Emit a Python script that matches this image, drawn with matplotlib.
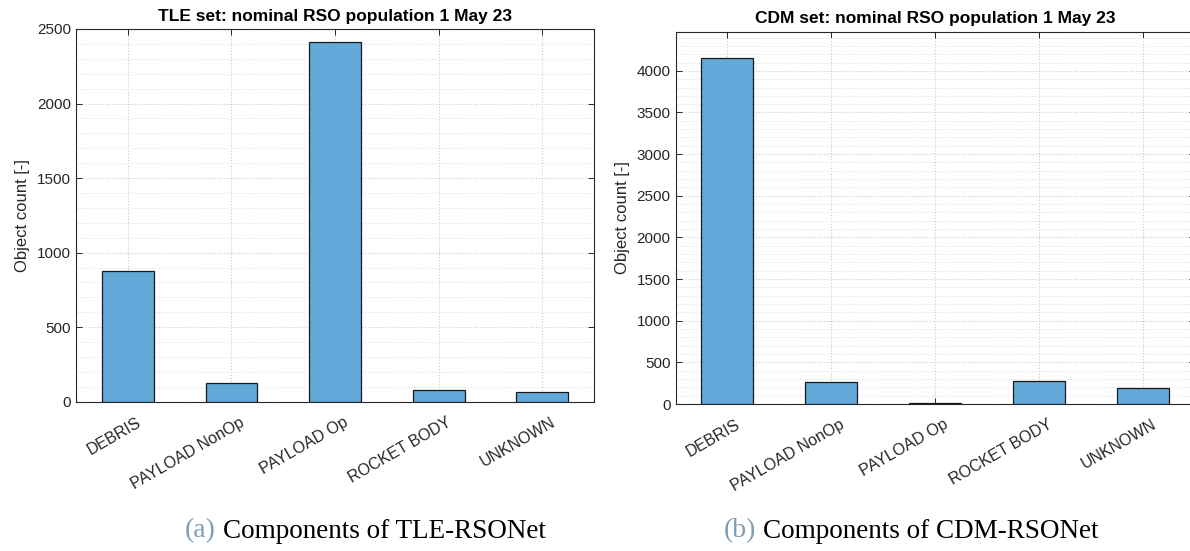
import numpy as np
import matplotlib.pyplot as plt
import matplotlib.transforms as mtransforms
from matplotlib.ticker import MultipleLocator

# data
categories = ['DEBRIS', 'PAYLOAD NonOp', 'PAYLOAD Op', 'ROCKET BODY', 'UNKNOWN']
tle_counts = [880, 127, 2412, 76, 64]
cdm_counts = [4160, 264, 12, 272, 197]
titles = ['TLE set: nominal RSO population 1 May 23',
          'CDM set: nominal RSO population 1 May 23']
captions = [('(a)', 'Components of TLE-RSONet'),
            ('(b)', 'Components of CDM-RSONet')]

plt.rcParams['font.family'] = ['Liberation Sans', 'DejaVu Sans']

W, H = 1190, 551
fig = plt.figure(figsize=(W / 100, H / 100), dpi=100)

# axes boxes in pixels: left, top, right, bottom
boxes = [(76, 29, 594, 401.7), (675.5, 31.7, 1195, 404)]
ylims = [(0, 2500), (0, 4470)]
series = [tle_counts, cdm_counts]

bar_col = '#62a8d8'
frame_col = '#262626'
x = np.arange(1, len(categories) + 1)

for k in range(2):
    l, t, r, b = boxes[k]
    ax = fig.add_axes([l / W, 1 - b / H, (r - l) / W, (b - t) / H])
    ax.bar(x, series[k], width=0.5, color=bar_col, edgecolor='#1a1a1a',
           linewidth=0.9, zorder=3)
    ax.set_xlim(0.5, 5.5)
    ax.set_ylim(*ylims[k])
    ax.set_xticks(x)
    ax.set_xticklabels([])
    # rotated category labels, shifted a little like MATLAB does
    trans = mtransforms.blended_transform_factory(ax.transData, ax.transAxes)
    off = mtransforms.ScaledTranslation(8 / 100, -13 / 100, fig.dpi_scale_trans)
    for xi, name in zip(x, categories):
        ax.text(xi, 0, name, transform=trans + off, rotation=30, ha='right',
                va='top', rotation_mode='anchor', fontsize=11.5, color='#262626')
    ax.yaxis.set_major_locator(MultipleLocator(500))
    ax.yaxis.set_minor_locator(MultipleLocator(100))
    ax.tick_params(axis='y', labelsize=11, labelcolor='#262626')
    ax.tick_params(which='both', direction='in', top=True, right=True,
                   color=frame_col, length=4, width=0.7)
    ax.tick_params(which='minor', length=0)
    ax.grid(which='major', linestyle=':', color='#c8c8c8', linewidth=0.8, zorder=0)
    ax.grid(which='minor', axis='y', linestyle=':', color='#e0e0e0',
            linewidth=0.7, zorder=0)
    ax.set_axisbelow(True)
    for s in ax.spines.values():
        s.set_color(frame_col)
        s.set_linewidth(0.8)
    ax.set_ylabel('Object count [-]', fontsize=12, color='#262626', labelpad=5)
    ax.set_title(titles[k], fontsize=12.5, fontweight='bold', pad=6)

# subfigure captions
tag_right = [216, 756]
txt_left = [223, 763]
for k in range(2):
    tag, txt = captions[k]
    fig.text(tag_right[k] / W, 1 - 531 / H, tag, fontsize=20,
             family='Liberation Serif', color='#7f9db5', ha='right', va='center')
    fig.text(txt_left[k] / W, 1 - 531 / H, txt, fontsize=19.5,
             family='Liberation Serif', color='black', ha='left', va='center')

fig.savefig('out.png', dpi=100)
